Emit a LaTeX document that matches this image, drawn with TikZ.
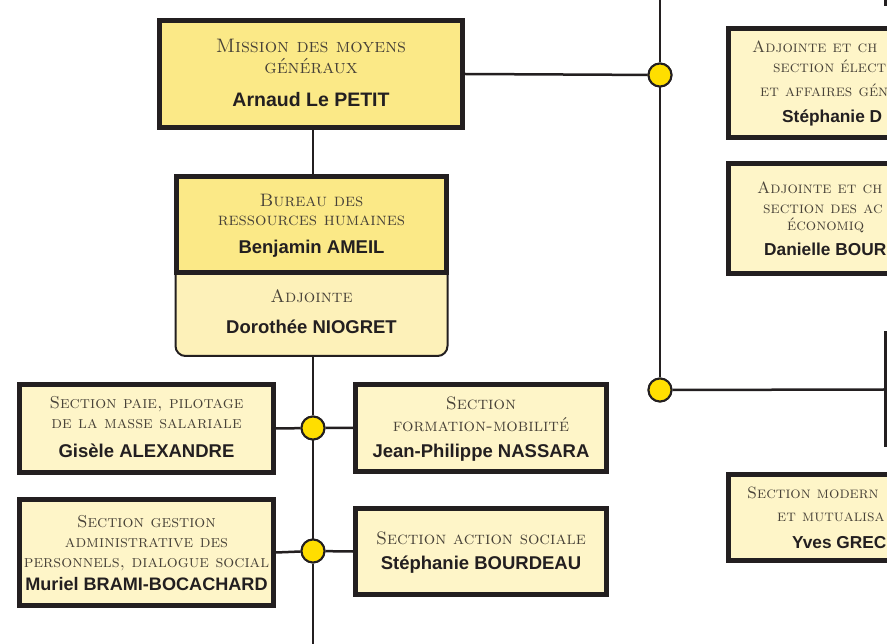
\documentclass[tikz,border=0pt]{standalone}
\usepackage{fontspec}
\newfontfamily\namefont{Liberation Sans}
\definecolor{bord}{RGB}{35,31,32}
\definecolor{yel}{RGB}{251,233,135}
\definecolor{adjfill}{RGB}{253,241,185}
\definecolor{cream}{RGB}{254,245,200}
\definecolor{dotyel}{RGB}{255,222,0}
\definecolor{sctxt}{RGB}{72,66,56}
\definecolor{nametxt}{RGB}{35,31,32}
\begin{document}
\begin{tikzpicture}[x=1pt,y=-1pt,
  thickbox/.style={draw=bord, line width=5pt, inner sep=0pt, rectangle},
  ybox/.style={thickbox, fill=yel},
  cbox/.style={thickbox, fill=cream},
  adjbox/.style={draw=bord, line width=2pt, fill=adjfill, rounded corners=10pt, inner sep=0pt, rectangle},
  conn/.style={draw=bord, line width=2.5pt},
  dot/.style={circle, draw=bord, line width=2pt, fill=dotyel, minimum size=23pt, inner sep=0pt},
  sctext/.style={anchor=base, inner sep=0pt, font=\fontsize{18}{21}\selectfont\scshape, text=sctxt},
  smallsctext/.style={sctext, font=\fontsize{17.2}{20}\selectfont\scshape},
  bigsctext/.style={sctext, font=\fontsize{19.5}{22}\selectfont\scshape},
  sctextl/.style={sctext, anchor=base west, font=\fontsize{16.3}{20}\selectfont\scshape},
  nametext/.style={anchor=base, inner sep=0pt, font=\namefont\bfseries\fontsize{18.5}{21}\selectfont, text=nametxt},
  smallnametext/.style={nametext, font=\namefont\bfseries\fontsize{18.1}{21}\selectfont},
  nametextl/.style={nametext, anchor=base west, font=\namefont\bfseries\fontsize{17.3}{21}\selectfont},
  bignametext/.style={nametext, font=\namefont\bfseries\fontsize{19.5}{22}\selectfont}]
\useasboundingbox (0,0) rectangle (887,644);
\clip (0,0) rectangle (887,644);

% coordinates
\coordinate (vx) at (313,0);
\coordinate (top) at (660,0);
\coordinate (bottom) at (313,644);

% dots
\node[dot] (d1) at (660,75) {};
\node[dot] (d2) at (660,390) {};
\node[dot] (d3) at (313,428) {};
\node[dot] (d4) at (313,551) {};

% boxes
\node[ybox, minimum width=303pt, minimum height=107pt] (mission) at (311,74) {};
\node[adjbox, minimum width=272pt, minimum height=105pt] (adj) at (311.5,303.5) {};
\node[ybox, minimum width=270pt, minimum height=96pt] (bureau) at (311.5,224.5) {};
\node[cbox, minimum width=254pt, minimum height=88pt] (paie) at (146.5,428.5) {};
\node[cbox, minimum width=251pt, minimum height=87pt] (form) at (481,428) {};
\node[cbox, minimum width=254pt, minimum height=106pt] (gest) at (146.5,552.5) {};
\node[cbox, minimum width=251pt, minimum height=86pt] (act) at (481,551.5) {};
\node[cbox, minimum width=271.5pt, minimum height=109pt] (r1) at (864.25,83) {};
\node[cbox, minimum width=271.5pt, minimum height=110pt] (r2) at (864.25,218.5) {};
\node[cbox, minimum width=271.5pt, minimum height=86pt] (r3) at (864.25,517.5) {};
\node[cbox, minimum width=114pt, minimum height=111pt] (r4) at (943.5,389.5) {};
\node[cbox, minimum width=114pt, minimum height=100pt] (r0) at (943,-46.5) {};

% connectors
\draw[conn] (mission.south -| vx) -- (bureau.north -| vx);
\draw[conn] (adj.south -| vx) -- (d3) -- (d4) -- (bottom);
\draw[conn] (mission.east) -- (d1);
\draw[conn] (top) -- (d1) -- (d2);
\draw[conn] (d2) -- (r4.west);
\draw[conn] (paie.east) -- (d3) -- (form.west);
\draw[conn] (gest.east) -- (d4) -- (act.west);

% redraw dots on top
\node[dot] at (d1) {};
\node[dot] at (d2) {};
\node[dot] at (d3) {};
\node[dot] at (d4) {};

% texts
\node[bigsctext] (t-m1) at (311,52.7) {Mission des moyens};
\node[bigsctext] (t-m2) at (311,74) {généraux};
\node[bignametext] (t-m3) at (311,106.7) {Arnaud Le PETIT};

\node[sctext] (t-b1) at (311.5,206.7) {Bureau des};
\node[sctext] (t-b2) at (311.5,226) {ressources humaines};
\node[nametext] (t-b3) at (311.5,254) {Benjamin AMEIL};

\node[sctext] (t-a1) at (311.5,302.7) {Adjointe};
\node[nametext] (t-a2) at (311.5,333.3) {Dorothée NIOGRET};

\node[smallsctext] (t-p1) at (146.5,409) {Section paie, pilotage};
\node[smallsctext] (t-p2) at (146.5,429) {de la masse salariale};
\node[nametext] (t-p3) at (146.5,457.7) {Gisèle ALEXANDRE};

\node[sctext] (t-f1) at (481,410) {Section};
\node[sctext] (t-f2) at (481,431.7) {formation-mobilité};
\node[nametext] (t-f3) at (481,457.3) {Jean-Philippe NASSARA};

\node[smallsctext] (t-g1) at (146.5,527.3) {Section gestion};
\node[smallsctext] (t-g2) at (146.5,547.3) {administrative des};
\node[smallsctext] (t-g3) at (146.5,567.3) {personnels, dialogue social};
\node[smallnametext] (t-g4) at (146.5,590.7) {Muriel BRAMI-BOCACHARD};

\node[sctext] (t-s1) at (481,544.3) {Section action sociale};
\node[nametext] (t-s2) at (481,569.3) {Stéphanie BOURDEAU};

\node[sctextl] (t-r11) at (752,53) {Adjointe et ch};
\node[sctextl] (t-r12) at (773,72.7) {section élect};
\node[sctextl] (t-r13) at (760,96.7) {et affaires gén};
\node[nametextl] (t-r14) at (782,123) {Stéphanie D};

\node[sctextl] (t-r21) at (757,193.3) {Adjointe et ch};
\node[sctextl] (t-r22) at (763,213.3) {section des ac};
\node[sctextl] (t-r23) at (787,231) {économiq};
\node[nametextl] (t-r24) at (764,256) {Danielle BOUR};

\node[sctextl] (t-r31) at (747,498.3) {Section modern};
\node[sctextl] (t-r32) at (777,521.7) {et mutualisa};
\node[nametextl] (t-r33) at (792,548.3) {Yves GREC};
\end{tikzpicture}
\end{document}
